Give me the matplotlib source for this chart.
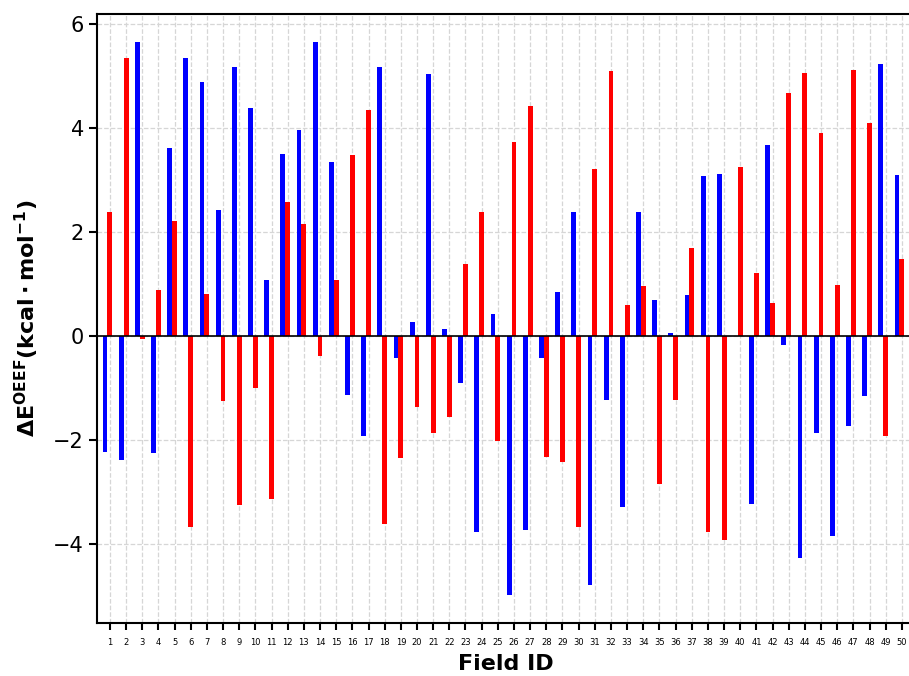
import numpy as np
import matplotlib
matplotlib.use("Agg")
import matplotlib.pyplot as plt

# Field IDs and the two energy series (kcal/mol)
fields = list(range(1, 51))
blue_vals = [
    -2.24, -2.39, 5.66, -2.26, 3.61, 5.35, 4.89, 2.42, 5.17, 4.39,
    1.07, 3.51, 3.97, 5.66, 3.34, -1.14, -1.92, 5.17, -0.43, 0.26,
    5.04, 0.13, -0.91, -3.78, 0.42, -4.99, -3.73, -0.42, 0.85, 2.38,
    -4.79, -1.24, -3.29, 2.38, 0.70, 0.05, 0.78, 3.07, 3.12, 0.0,
    -3.24, 3.68, -0.17, -4.27, -1.87, -3.84, -1.74, -1.15, 5.24, 3.10,
]
red_vals = [
    2.38, 5.35, -0.05, 0.89, 2.22, -3.67, 0.80, -1.25, -3.25, -1.01,
    -3.14, 2.58, 2.15, -0.39, 1.07, 3.49, 4.35, -3.61, -2.34, -1.37,
    -1.87, -1.55, 1.38, 2.38, -2.02, 3.74, 4.43, -2.33, -2.43, -3.67,
    3.22, 5.09, 0.59, 0.96, -2.85, -1.24, 1.70, -3.77, -3.93, 3.25,
    1.22, 0.63, 4.67, 5.06, 3.91, 0.98, 5.11, 4.10, -1.92, 1.49,
]

x = np.array(fields)
width = 0.3

fig = plt.figure(figsize=(9.09, 6.76), dpi=100)
ax = fig.add_axes([0.1067, 0.0784, 0.8997, 0.9006])

ax.bar(x - width, blue_vals, width=width, color='blue', zorder=3)
ax.bar(x, red_vals, width=width, color='red', zorder=3)
ax.axhline(0, color='black', linewidth=1.2, zorder=4)

ax.set_xlim(0.2, 50.8)
ax.set_xticks(x)
ax.set_xticklabels([str(f) for f in fields], fontsize=6)
ax.set_yticks([-4, -2, 0, 2, 4, 6])
ax.tick_params(axis='y', labelsize=15, width=1.5, length=6)
ax.tick_params(axis='x', width=1.5, length=5, pad=6)

ax.grid(True, linestyle='--', color='#d6d6d6', linewidth=0.9, zorder=0)
ax.set_axisbelow(True)
for s in ax.spines.values():
    s.set_linewidth(1.5)

ax.set_xlabel('Field ID', fontsize=16, fontweight='bold', labelpad=5)
ax.set_ylabel(r'$\mathbf{\Delta E^{OEEF}(kcal \cdot mol^{-1})}$', fontsize=16,
              labelpad=9)

fig.savefig('out.png', dpi=100)
